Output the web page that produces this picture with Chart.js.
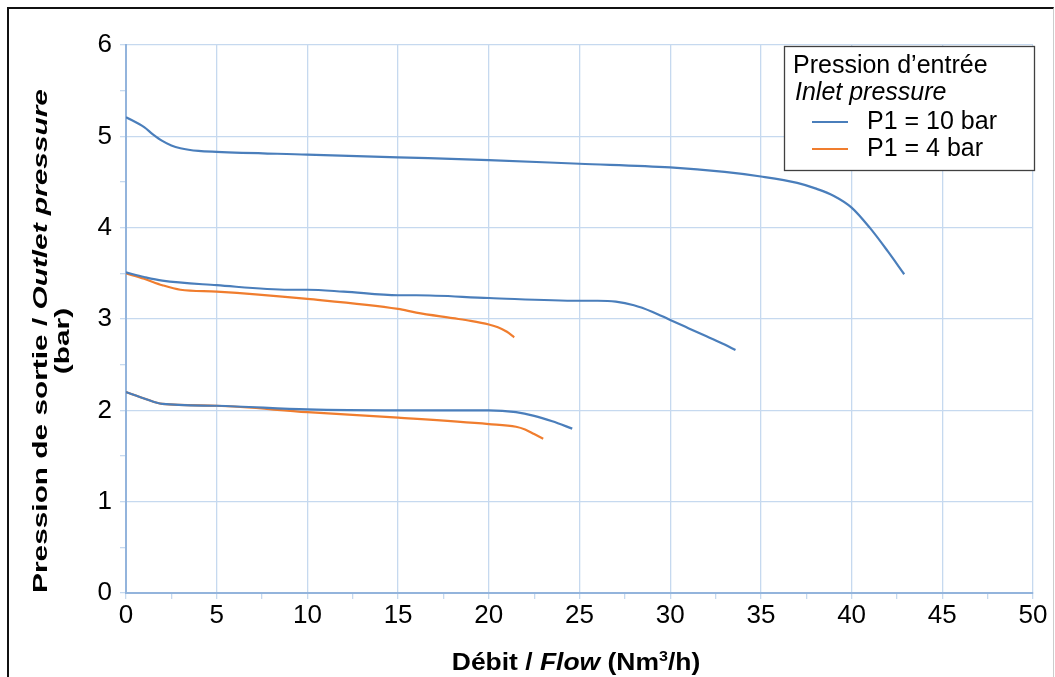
<!DOCTYPE html>
<html>
<head>
<meta charset="utf-8">
<script src="https://cdn.jsdelivr.net/npm/chart.js@4"></script>
<style>
  html, body { margin: 0; padding: 0; background: #fff; }
  #wrap { position: relative; width: 1055px; height: 677px; overflow: hidden; }
  #frame { position: absolute; left: 7px; top: 7px; width: 1044px; height: 700px;
           border-left: 2px solid #111; border-top: 2px solid #111; border-right: 1px solid #ccc; }
  canvas { position: absolute; left: 0; top: 0; }
</style>
</head>
<body>
<div id="wrap">
  <canvas id="chart" width="1055" height="677"></canvas>
  <div id="frame"></div>
</div>
<script>
// Courbes débit / pression de sortie
// P1 = 10 bar, consigne haute
const flowA = [0, 1, 1.5, 2, 2.5, 3, 4, 5, 10, 15, 20, 25, 30, 33, 35, 37, 38, 39, 40, 41, 42, 42.9];
const presA = [5.21, 5.10, 5.02, 4.95, 4.90, 4.87, 4.84, 4.83, 4.80, 4.77, 4.74, 4.70, 4.66, 4.61, 4.56, 4.49, 4.43, 4.35, 4.22, 4.00, 3.74, 3.49];
// P1 = 10 bar, consigne moyenne
const flowB = [0, 1, 2, 5, 9, 10, 12, 15, 16, 20, 25, 26, 27, 28, 29, 30, 31, 32, 33, 33.6];
const presB = [3.51, 3.46, 3.42, 3.37, 3.32, 3.32, 3.30, 3.26, 3.26, 3.23, 3.20, 3.20, 3.19, 3.15, 3.08, 2.99, 2.90, 2.81, 2.72, 2.66];
// P1 = 10 bar, consigne basse
const flowD = [0, 1, 2, 5, 10, 15, 20, 21.5, 22.5, 23.5, 24.6];
const presD = [2.20, 2.13, 2.07, 2.05, 2.01, 2.00, 2.00, 1.98, 1.94, 1.88, 1.80];
// P1 = 4 bar, consigne moyenne
const flowC = [0, 1, 2, 3, 5, 10, 15, 16, 18, 19, 20, 20.5, 21, 21.4];
const presC = [3.50, 3.44, 3.37, 3.32, 3.30, 3.22, 3.11, 3.07, 3.01, 2.98, 2.94, 2.91, 2.86, 2.80];
// P1 = 4 bar, consigne basse
const flowE = [0, 1, 2, 5, 10, 15, 20, 21.5, 22, 22.5, 23.0];
const presE = [2.20, 2.13, 2.07, 2.05, 1.98, 1.92, 1.85, 1.82, 1.79, 1.74, 1.69];

const legendLabels = ['P1 = 10 bar', 'P1 = 4 bar'];
const BLUE = '#4a7ebb';
const ORANGE = '#f07d2e';
const GRID = '#c6d9ef';
const AXIS = '#93b4dc';
const FONT = '"Liberation Sans", Arial, sans-serif';

function pts(xs, ys) {
    return xs.map((x, i) => ({ x: x, y: ys[i] }));
}

function serie(xs, ys, color) {
    return {
        data: pts(xs, ys),
        borderColor: color,
        borderWidth: 2.2,
        pointRadius: 0,
        tension: 0.4,
        cubicInterpolationMode: 'monotone',
        fill: false
    };
}

// Titres d'axes (styles mixtes) et légende dessinés à la main
const decor = {
    id: 'decor',
    afterDraw(chart) {
        const ctx = chart.ctx;
        ctx.save();
        ctx.fillStyle = '#000';
        ctx.textBaseline = 'alphabetic';

        // titre X
        const partsX = [['bold', 'Débit / '], ['italic bold', 'Flow'], ['bold', ' (Nm']];
        ctx.save();
        ctx.translate(576, 670);
        ctx.scale(1.15, 1);
        let sz = 23;
        let w = 0;
        partsX.forEach(p => { ctx.font = p[0] + ' ' + sz + 'px ' + FONT; w += ctx.measureText(p[1]).width; });
        ctx.font = 'bold 14px ' + FONT; w += ctx.measureText('3').width;
        ctx.font = 'bold ' + sz + 'px ' + FONT; w += ctx.measureText('/h)').width;
        let x = -w / 2;
        partsX.forEach(p => {
            ctx.font = p[0] + ' ' + sz + 'px ' + FONT;
            ctx.fillText(p[1], x, 0);
            x += ctx.measureText(p[1]).width;
        });
        ctx.font = 'bold 14px ' + FONT;
        ctx.fillText('3', x, -9);
        x += ctx.measureText('3').width;
        ctx.font = 'bold ' + sz + 'px ' + FONT;
        ctx.fillText('/h)', x, 0);
        ctx.restore();

        // titre Y
        const partsY = [['bold', 'Pression de sortie / '], ['italic bold', 'Outlet pressure']];
        ctx.save();
        ctx.translate(47, 341);
        ctx.rotate(-Math.PI / 2);
        ctx.scale(1.42, 1);
        sz = 21;
        w = 0;
        partsY.forEach(p => { ctx.font = p[0] + ' ' + sz + 'px ' + FONT; w += ctx.measureText(p[1]).width; });
        x = -w / 2;
        partsY.forEach(p => {
            ctx.font = p[0] + ' ' + sz + 'px ' + FONT;
            ctx.fillText(p[1], x, 0);
            x += ctx.measureText(p[1]).width;
        });
        ctx.font = 'bold ' + sz + 'px ' + FONT;
        ctx.textAlign = 'center';
        ctx.fillText('(bar)', 0, 22);
        ctx.restore();

        // légende
        const lx = 784, ly = 46, lw = 250, lh = 124;
        ctx.fillStyle = '#fff';
        ctx.fillRect(lx, ly, lw, lh);
        ctx.strokeStyle = '#404040';
        ctx.lineWidth = 1.3;
        ctx.strokeRect(lx + 0.5, ly + 0.5, lw, lh);
        ctx.fillStyle = '#000';
        ctx.textAlign = 'left';
        ctx.textBaseline = 'middle';
        ctx.font = '25px ' + FONT;
        ctx.fillText('Pression d’entrée', 793, 66);
        ctx.font = 'italic 25px ' + FONT;
        ctx.fillText('Inlet pressure', 795, 93);
        const colors = [BLUE, ORANGE];
        legendLabels.forEach((lab, i) => {
            const y = 122 + i * 27;
            ctx.strokeStyle = colors[i];
            ctx.lineWidth = 2.2;
            ctx.beginPath();
            ctx.moveTo(812, y);
            ctx.lineTo(848, y);
            ctx.stroke();
            ctx.font = '25px ' + FONT;
            ctx.fillText(lab, 867, y);
        });
        ctx.restore();
    }
};

new Chart(document.getElementById('chart'), {
    type: 'line',
    data: {
        datasets: [
            serie(flowA, presA, BLUE),
            serie(flowB, presB, BLUE),
            serie(flowD, presD, BLUE),
            serie(flowC, presC, ORANGE),
            serie(flowE, presE, ORANGE)
        ]
    },
    options: {
        responsive: false,
        animation: false,
        layout: { padding: { left: 0, top: 45, right: 22, bottom: 0 } },
        plugins: { legend: { display: false }, tooltip: { enabled: false } },
        scales: {
            x: {
                type: 'linear',
                min: 0,
                max: 50,
                afterFit: s => { s.height = 84; },
                ticks: {
                    stepSize: 2.5,
                    autoSkip: false,
                    maxRotation: 0,
                    padding: 1,
                    color: '#000',
                    font: { family: FONT, size: 26 },
                    callback: v => (v % 5 === 0 ? v : '')
                },
                grid: {
                    color: c => (c.tick && c.tick.value % 5 === 0 ? GRID : 'rgba(0,0,0,0)'),
                    lineWidth: 1.3,
                    tickColor: GRID,
                    tickLength: 6
                },
                border: { color: AXIS, width: 2 }
            },
            y: {
                min: 0,
                max: 6,
                afterFit: s => { s.width = 126; },
                ticks: {
                    stepSize: 0.5,
                    autoSkip: false,
                    padding: 8,
                    color: '#000',
                    font: { family: FONT, size: 26 },
                    callback: v => (v % 1 === 0 ? v : '')
                },
                grid: {
                    color: c => (c.tick && c.tick.value % 1 === 0 ? GRID : 'rgba(0,0,0,0)'),
                    lineWidth: 1.3,
                    tickColor: GRID,
                    tickLength: 6
                },
                border: { color: AXIS, width: 2 }
            }
        }
    },
    plugins: [decor]
});
</script>
</body>
</html>
